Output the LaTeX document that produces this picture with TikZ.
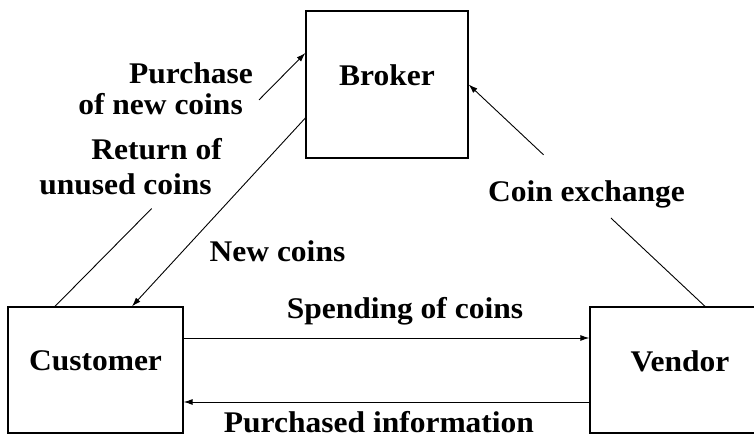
\documentclass[tikz,border=0pt]{standalone}
\usepackage{fontspec}
\setmainfont{Liberation Serif}[FakeStretch=1.05]
\usetikzlibrary{arrows.meta}

\begin{document}
\begin{tikzpicture}[x=1pt,y=1pt,
  >={Latex[length=9pt,width=6pt]},
  every node/.style={font=\fontsize{30}{31}\selectfont\bfseries},
  party/.style={draw,line width=1.3pt,inner sep=0pt,text depth=18pt},
  flow/.style={line width=0.9pt}]
\useasboundingbox (0,0) rectangle (754,440);
\clip (0,0) rectangle (754,440);
\path
(387,355.5) node[party,minimum width=162pt,minimum height=147pt] (broker) {Broker}
(95.5,70)   node[party,minimum width=175pt,minimum height=126pt] (customer) {Customer}
(680,70)    node[party,minimum width=180pt,minimum height=126pt] (vendor) {Vendor};

\node[anchor=north east,align=right,inner sep=0pt] (buy) at (253,378) {Purchase\\of new coins\kern10pt};
\node[anchor=north east,align=right,inner sep=0pt] (ret) at (222,302) {Return of\\[4pt]unused coins\kern10pt};
\node[anchor=base,inner sep=0pt] (newc) at (277.5,179) {New coins};
\node[anchor=base,inner sep=0pt] (spend) at (405,122) {Spending of coins};
\node[anchor=base,inner sep=0pt] (info) at (379,8) {Purchased information};
\node[anchor=base,inner sep=0pt] (exch) at (586.5,239) {Coin exchange};

\draw[flow,->] ([yshift=32pt]customer.east) -- ([yshift=32pt]vendor.west);
\draw[flow,->] ([yshift=-32pt]vendor.west) -- ([yshift=-32pt]customer.east);
\draw[flow,->] ([yshift=-33.5pt]broker.west) -- ([xshift=36.5pt]customer.north);

\coordinate (retA) at ([xshift=-40.5pt]customer.north);
\coordinate (retB) at ([yshift=31.5pt]broker.west);
\path (retA) -- (retB) coordinate[pos=.386] (retC) coordinate[pos=.815] (retD);
\draw[flow] (retA) -- (retC);
\draw[flow,->] (retD) -- (retB);

\coordinate (exA) at ([xshift=25pt]vendor.north);
\path (exA) -- (broker.east) coordinate[pos=.398] (exC) coordinate[pos=.683] (exD);
\draw[flow] (exA) -- (exC);
\draw[flow,->] (exD) -- (broker.east);
\end{tikzpicture}
\end{document}
